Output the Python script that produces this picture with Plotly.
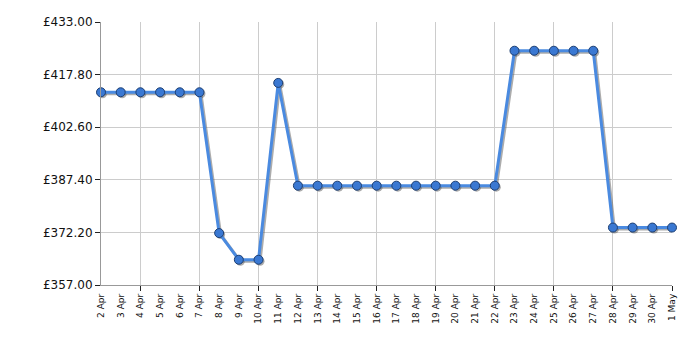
import plotly.graph_objects as go

dates = ["2 Apr", "3 Apr", "4 Apr", "5 Apr", "6 Apr", "7 Apr", "8 Apr", "9 Apr", "10 Apr",
         "11 Apr", "12 Apr", "13 Apr", "14 Apr", "15 Apr", "16 Apr", "17 Apr", "18 Apr",
         "19 Apr", "20 Apr", "21 Apr", "22 Apr", "23 Apr", "24 Apr", "25 Apr", "26 Apr",
         "27 Apr", "28 Apr", "29 Apr", "30 Apr", "1 May"]
prices = [412.7, 412.7, 412.7, 412.7, 412.7, 412.7, 372.0, 364.3, 364.3,
          415.4, 385.7, 385.7, 385.7, 385.7, 385.7, 385.7, 385.7,
          385.7, 385.7, 385.7, 385.7, 424.7, 424.7, 424.7, 424.7,
          424.7, 373.6, 373.6, 373.6, 373.6]
y_ticks = [357.0, 372.2, 387.4, 402.6, 417.8, 433.0]

idx = list(range(len(dates)))
n = len(dates) - 1
ymin, ymax = 357.0, 433.0
# pixel-based offsets for the drop shadow
px_x = (700 - 101 - 28) / n
px_y = (350 - 22 - 65) / (ymax - ymin)
sx, sy = 1.5 / px_x, 1.5 / px_y

fig = go.Figure()
# invisible helpers so the grid axis and label axis are drawn
fig.add_trace(go.Scatter(x=idx, y=prices, xaxis="x", yaxis="y", mode="markers",
                         marker=dict(opacity=0), hoverinfo="skip", showlegend=False))
fig.add_trace(go.Scatter(x=idx, y=prices, xaxis="x3", yaxis="y", mode="markers",
                         marker=dict(opacity=0), hoverinfo="skip", showlegend=False))
# shadow
fig.add_trace(go.Scatter(x=idx, y=prices, xaxis="x2", yaxis="y2", mode="lines+markers",
                         line=dict(color="rgba(90,90,90,0.5)", width=3),
                         marker=dict(size=9, color="rgba(90,90,90,0.5)"),
                         hoverinfo="skip", showlegend=False, cliponaxis=False))
# main
fig.add_trace(go.Scatter(x=idx, y=prices, xaxis="x4", yaxis="y4", mode="lines+markers",
                         line=dict(color="#4a8ae0", width=3),
                         marker=dict(size=9, color="#3a78d2", line=dict(color="#1d3f73", width=1)),
                         showlegend=False, cliponaxis=False))

font = dict(family="DejaVu Sans", color="#111111")
fig.update_layout(
    width=700, height=350,
    margin=dict(l=101, r=28, t=22, b=65),
    paper_bgcolor="white", plot_bgcolor="white",
    font=font,
    xaxis=dict(range=[0, n], tickmode="array", tickvals=idx[2::3], ticks="outside",
               ticklen=5, tickcolor="#222222", showticklabels=False, showgrid=True,
               gridcolor="#cccccc", gridwidth=1, showline=True, linecolor="#999999",
               zeroline=False),
    xaxis2=dict(range=[0 - sx, n - sx], overlaying="x", visible=False),
    xaxis3=dict(range=[0, n], overlaying="x", side="bottom", anchor="y", tickmode="array",
                tickvals=idx, ticktext=dates, tickangle=-90, ticks="", showgrid=False,
                showline=False, zeroline=False, ticklabelstandoff=6,
                tickfont=dict(size=9, family="DejaVu Sans", color="#111111")),
    xaxis4=dict(range=[0, n], overlaying="x", visible=False),
    yaxis=dict(range=[ymin, ymax], tickmode="array", tickvals=y_ticks,
               ticktext=["£%.2f" % v for v in y_ticks], ticks="outside", ticklen=5,
               tickcolor="#222222", showgrid=True, gridcolor="#cccccc", showline=True,
               linecolor="#999999", zeroline=False, tickfont=dict(size=12)),
    yaxis2=dict(range=[ymin + sy, ymax + sy], overlaying="y", visible=False),
    yaxis4=dict(range=[ymin, ymax], overlaying="y", visible=False),
)
fig.write_html("out.html")
